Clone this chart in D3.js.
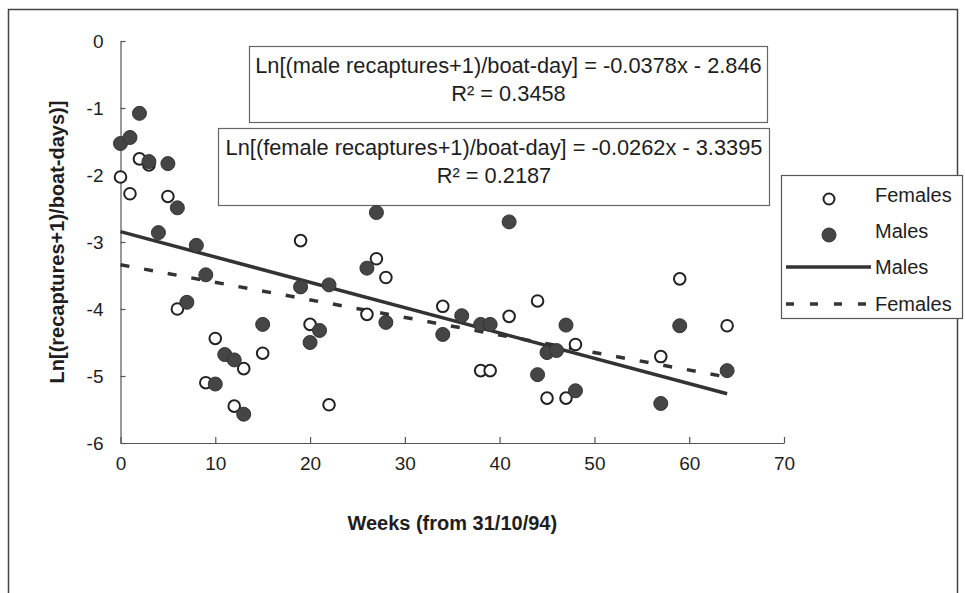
<!DOCTYPE html>
<html>
<head>
<meta charset="utf-8">
<script src="https://cdn.jsdelivr.net/npm/d3@7"></script>
<style>
  body { margin: 0; background: #fff; }
  text { font-family: "Liberation Sans", Arial, sans-serif; fill: #1e1e1e; }
</style>
</head>
<body>
<svg id="chart" width="965" height="593"></svg>
<script>
// data
const femaleWeeks = [0, 1, 2, 3, 5, 6, 9, 10, 12, 13, 15, 19, 20, 22, 26, 27, 28, 34, 38, 39, 41, 44, 45, 47, 48, 57, 59, 64];
const femaleValues = [-2.03, -2.28, -1.76, -1.85, -2.32, -4.0, -5.1, -4.44, -5.45, -4.89, -4.66, -2.98, -4.23, -5.43, -4.08, -3.25, -3.53, -3.96, -4.92, -4.92, -4.11, -3.88, -5.33, -5.33, -4.53, -4.71, -3.55, -4.25];
const maleWeeks = [0, 1, 2, 3, 4, 5, 6, 7, 8, 9, 10, 11, 12, 13, 15, 19, 20, 21, 22, 26, 27, 28, 34, 36, 38, 39, 41, 44, 45, 46, 47, 48, 57, 59, 64];
const maleValues = [-1.53, -1.44, -1.08, -1.8, -2.86, -1.83, -2.49, -3.9, -3.05, -3.49, -5.12, -4.68, -4.76, -5.57, -4.23, -3.67, -4.5, -4.32, -3.64, -3.39, -2.56, -4.2, -4.38, -4.1, -4.23, -4.23, -2.7, -4.98, -4.65, -4.62, -4.24, -5.22, -5.41, -4.25, -4.92];

// trendline coefficients [slope, intercept]
const maleFit = [-0.0378, -2.846];
const femaleFit = [-0.0262, -3.3395];

const xTicks = [0, 10, 20, 30, 40, 50, 60, 70];
const yTicks = [0, -1, -2, -3, -4, -5, -6];

const maleEquation = ["Ln[(male recaptures+1)/boat-day] = -0.0378x - 2.846", "R² = 0.3458"];
const femaleEquation = ["Ln[(female recaptures+1)/boat-day] = -0.0262x - 3.3395", "R² = 0.2187"];
const legendLabels = ["Females", "Males", "Males", "Females"];

const svg = d3.select("#chart");
const ink = "#333";

// outer frame
svg.append("rect")
    .attr("x", 8.5).attr("y", 9.5)
    .attr("width", 949).attr("height", 600)
    .attr("fill", "none").attr("stroke", "#444").attr("stroke-width", 1.5);

const x = d3.scaleLinear().domain([0, 70]).range([120.5, 784]);
const y = d3.scaleLinear().domain([-6, 0]).range([443, 41]);

// axes
const xAxis = svg.append("g")
    .attr("transform", `translate(0,${y(-6)})`)
    .call(d3.axisBottom(x).tickValues(xTicks).tickFormat(d => String(d))
        .tickSizeInner(-6).tickSizeOuter(0).tickPadding(14));
const yAxis = svg.append("g")
    .attr("transform", `translate(${x(0)},0)`)
    .call(d3.axisLeft(y).tickValues(yTicks).tickFormat(d => String(d))
        .tickSizeInner(-5).tickSizeOuter(0).tickPadding(17));

[xAxis, yAxis].forEach(g => {
    g.select(".domain").attr("stroke", "#555").attr("stroke-width", 1.2);
    g.selectAll(".tick line").attr("stroke", "#555").attr("stroke-width", 1.2);
    g.selectAll(".tick text")
        .style("font-family", "'Liberation Sans', Arial, sans-serif")
        .style("font-size", "19px")
        .attr("fill", "#1e1e1e");
});

// axis titles
svg.append("text")
    .attr("x", (x(0) + x(70)) / 2).attr("y", 530)
    .attr("text-anchor", "middle")
    .style("font-size", "20px").style("font-weight", "bold")
    .text("Weeks (from 31/10/94)");

svg.append("text")
    .attr("transform", `translate(64,${(y(0) + y(-6)) / 2}) rotate(-90)`)
    .attr("text-anchor", "middle")
    .style("font-size", "20px").style("font-weight", "bold")
    .text("Ln[(recaptures+1)/boat-days)]");

// equation boxes
function eqBox(lines, bx, by, bw, bh) {
    const g = svg.append("g");
    g.append("rect")
        .attr("x", bx).attr("y", by).attr("width", bw).attr("height", bh)
        .attr("fill", "#fff").attr("stroke", "#666").attr("stroke-width", 1.2);
    g.selectAll("text").data(lines).enter().append("text")
        .attr("x", bx + bw / 2)
        .attr("y", (d, i) => by + 26 + i * 28)
        .attr("text-anchor", "middle")
        .style("font-size", "21.8px")
        .text(d => d);
}
eqBox(maleEquation, 249.5, 46.5, 518, 76);
eqBox(femaleEquation, 218.5, 128.5, 551, 77);

// trendlines
const fitLine = d3.line().x(d => x(d[0])).y(d => y(d[1]));
function fitPoints(fit, weeks) {
    const ext = d3.extent(weeks);
    return ext.map(w => [w, fit[0] * w + fit[1]]);
}
svg.append("path")
    .attr("d", fitLine(fitPoints(maleFit, maleWeeks)))
    .attr("stroke", ink).attr("stroke-width", 3.5).attr("fill", "none");
svg.append("path")
    .attr("d", fitLine(fitPoints(femaleFit, femaleWeeks)))
    .attr("stroke", ink).attr("stroke-width", 3.5).attr("fill", "none")
    .attr("stroke-dasharray", "9,15");

// points
const females = femaleWeeks.map((w, i) => ({ w, v: femaleValues[i] }));
const males = maleWeeks.map((w, i) => ({ w, v: maleValues[i] }));

svg.append("g").selectAll("circle")
    .data(females).enter().append("circle")
    .attr("cx", d => x(d.w)).attr("cy", d => y(d.v))
    .attr("r", 5.8)
    .attr("fill", "#fff").attr("stroke", "#222").attr("stroke-width", 2);

svg.append("g").selectAll("circle")
    .data(males).enter().append("circle")
    .attr("cx", d => x(d.w)).attr("cy", d => y(d.v))
    .attr("r", 7)
    .attr("fill", "#454545").attr("stroke", "#333").attr("stroke-width", 1);

// legend
const lg = svg.append("g");
lg.append("rect")
    .attr("x", 781.5).attr("y", 175.5).attr("width", 181).attr("height", 143)
    .attr("fill", "#fff").attr("stroke", "#555").attr("stroke-width", 1.2);

const rows = [195, 231, 267, 304];
lg.append("circle").attr("cx", 829).attr("cy", rows[0] + 4).attr("r", 5.5)
    .attr("fill", "#fff").attr("stroke", "#222").attr("stroke-width", 2);
lg.append("circle").attr("cx", 829).attr("cy", rows[1] + 4).attr("r", 7)
    .attr("fill", "#454545").attr("stroke", "#333").attr("stroke-width", 1);
lg.append("line").attr("x1", 786).attr("x2", 871).attr("y1", rows[2]).attr("y2", rows[2])
    .attr("stroke", ink).attr("stroke-width", 3.5);
lg.append("line").attr("x1", 786).attr("x2", 871).attr("y1", rows[3]).attr("y2", rows[3])
    .attr("stroke", ink).attr("stroke-width", 3.5).attr("stroke-dasharray", "8,16");

lg.selectAll("text.lab").data(legendLabels).enter().append("text")
    .attr("class", "lab")
    .attr("x", d => 875)
    .attr("y", (d, i) => rows[i] + 7)
    .style("font-size", "20px")
    .text(d => d);
</script>
</body>
</html>
